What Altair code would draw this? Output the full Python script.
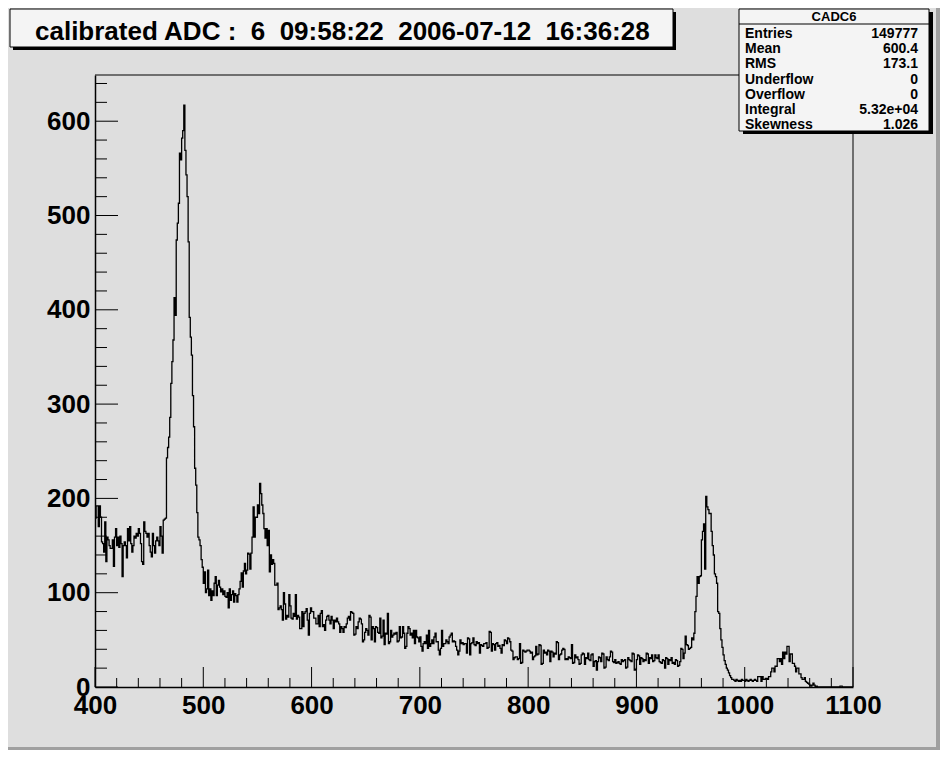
import altair as alt
import pandas as pd

# ---------------- data (counts per 1-unit bin) ----------------
c400 = [179,192,192,170,192,180,154,152,143,175,
        133,159,156,150,147,147,156,128,159,168,
        150,159,148,160,152,117,150,154,150,137,
        168,155,170,152,143,150,160,158,163,160,
        168,163,152,133,130,175,165,163,159,163,
        150,143,138,163,150,142,155,159,155,150,
        170,160,142,177,178,179,243,254,265,286,
        322,345,368,413,394,474,492,513,566,559,
        582,590,617,569,543,520,472,392,371,352,
        309,276,232,214,185,159,156,150,135,127]
c500 = [110,122,100,104,124,97,104,92,102,97,
        110,117,97,108,113,106,101,104,98,102,
        96,95,100,84,104,92,98,102,90,99,
        97,90,98,104,112,121,106,123,131,120,
        124,142,141,125,142,159,191,159,180,180,
        193,184,216,205,193,184,168,158,168,150,
        166,122,140,130,135,131,108,108,110,82,
        84,86,82,71,100,88,72,76,74,98,
        86,73,72,78,75,98,72,76,74,62,
        62,80,64,78,80,83,71,55,78,84]
c600 = [80,80,73,73,67,67,76,64,78,81,
        64,66,60,71,75,76,71,67,75,71,
        62,71,69,73,69,67,58,64,62,58,
        64,63,67,73,75,71,80,79,78,55,
        56,64,62,69,73,72,67,48,50,58,
        62,60,55,76,74,50,64,62,48,64,
        63,58,57,73,52,54,71,45,57,56,
        78,46,48,60,53,55,57,56,58,48,
        49,64,52,53,64,57,41,43,57,64,
        62,55,57,52,60,46,60,53,52,48]
c700 = [53,43,38,46,48,46,55,41,60,43,
        46,50,46,53,57,48,48,39,34,41,
        60,43,46,46,50,48,46,53,55,57,
        48,49,48,43,39,34,38,50,46,47,
        45,46,46,36,52,51,34,46,47,52,
        45,44,48,46,47,36,45,44,43,46,
        46,47,41,42,59,58,38,46,45,39,
        46,47,43,44,41,36,45,44,50,49,
        46,52,51,48,39,38,29,31,32,32,
        29,30,46,25,26,39,38,37,38,39]
c800 = [39,38,36,37,29,32,33,43,34,35,
        45,44,24,25,39,36,37,34,39,38,
        27,38,37,32,36,35,48,47,29,34,
        35,39,41,40,29,30,29,32,31,30,
        45,25,26,34,31,32,29,24,25,34,
        36,35,24,31,30,36,29,28,34,35,
        22,27,28,18,27,32,31,27,36,35,
        20,21,32,29,28,32,38,37,27,26,
        29,25,26,27,25,24,29,27,28,29,
        20,21,31,29,28,27,36,35,18,19]
c900 = [29,34,33,24,31,30,27,29,28,36,
        35,25,31,30,34,27,28,34,31,30,
        34,27,26,25,29,28,20,31,30,24,
        29,28,31,25,26,24,29,28,22,23,
        27,41,40,30,36,54,45,44,40,41,
        42,52,50,57,80,96,117,110,117,118,
        156,165,173,125,202,191,188,184,184,165,
        150,140,120,117,110,80,78,62,50,42,
        34,28,24,20,18,15,12,10,8,8,
        7,6,8,7,6,7,6,8,7,7]
c1000 = [6,8,7,6,7,8,7,6,7,8,
         7,6,11,11,11,6,11,8,8,9,
         9,8,11,11,16,20,20,16,22,22,
         30,30,27,30,24,37,30,37,35,43,
         43,27,35,35,25,25,22,16,20,20,
         14,14,10,8,8,10,6,5,4,3,
         2,1,2,4,2,0,1,0,0,0,
         0,0,0,0,0,0,0,0,0,0,
         0,0,0,0,0,0,0,0,1,1,
         0,0,0,0,0,0,0,0,0,0]

x_major = [400, 500, 600, 700, 800, 900, 1000, 1100]
y_major = [0, 100, 200, 300, 400, 500, 600]
x_minor = [v for v in range(400, 1101, 20) if v % 100]
y_minor = [v for v in range(0, 649, 20) if v % 100]

title_text = "calibrated ADC :\u00a0 6\u00a0 09:58:22\u00a0 2006-07-12\u00a0 16:36:28"
stats_name = "CADC6"
stats_labels = ["Entries", "Mean", "RMS", "Underflow", "Overflow", "Integral", "Skewness"]
stats_values = ["149777", "600.4", "173.1", "0", "0", "5.32e+04", "1.026"]

# ---------------- build ----------------
counts = c400 + c500 + c600 + c700 + c800 + c900 + c1000
edges = list(range(400, 1100))
hist = pd.DataFrame({"x": edges + [1100], "n": counts + [counts[-1]]})

W, H = 758, 612
FONT = "Liberation Sans"
xs = alt.Scale(domain=[400, 1100], nice=False, zero=False)
ys = alt.Scale(domain=[0, 649], nice=False)

common_axis = dict(title=None, labelFont=FONT, labelFontSize=26, labelFontWeight="bold",
                   labelColor="black", ticks=False, tickSize=0, grid=False,
                   domainColor="black", domainWidth=1.5, labelFlush=False,
                   labelOverlap=False, format="d")
xaxis = alt.Axis(values=x_major, labelPadding=5, **common_axis)
yaxis = alt.Axis(values=y_major, labelPadding=5, **common_axis)

layers = []

line = alt.Chart(hist).mark_line(interpolate="step-after", color="black",
                                 strokeWidth=1.3, clip=True).encode(
    x=alt.X("x:Q", scale=xs, axis=xaxis),
    y=alt.Y("n:Q", scale=ys, axis=yaxis),
)
layers.append(line)

def one():
    return pd.DataFrame({"a": [0]})

# ticks (inside the frame, like ROOT)
layers.append(alt.Chart(pd.DataFrame({"v": x_major})).mark_rule(color="black").encode(
    x=alt.X("v:Q", scale=xs, axis=xaxis), y=alt.value(H), y2=alt.value(H - 20)))
layers.append(alt.Chart(pd.DataFrame({"v": x_minor})).mark_rule(color="black").encode(
    x=alt.X("v:Q", scale=xs, axis=xaxis), y=alt.value(H), y2=alt.value(H - 9)))
layers.append(alt.Chart(pd.DataFrame({"v": y_major})).mark_rule(color="black").encode(
    y=alt.Y("v:Q", scale=ys, axis=yaxis), x=alt.value(0), x2=alt.value(23)))
layers.append(alt.Chart(pd.DataFrame({"v": y_minor})).mark_rule(color="black").encode(
    y=alt.Y("v:Q", scale=ys, axis=yaxis), x=alt.value(0), x2=alt.value(12)))

# frame top and right
layers.append(alt.Chart(one()).mark_rule(color="black").encode(
    x=alt.value(0), x2=alt.value(W), y=alt.value(0)))
layers.append(alt.Chart(one()).mark_rule(color="black").encode(
    x=alt.value(W), y=alt.value(0), y2=alt.value(H)))

def rect(x1, x2, y1, y2, fill, stroke=None):
    kw = dict(fill=fill)
    if stroke:
        kw.update(stroke=stroke, strokeWidth=1)
    return alt.Chart(one()).mark_rect(**kw).encode(
        x=alt.value(x1), x2=alt.value(x2), y=alt.value(y1), y2=alt.value(y2))

def text(t, x, y, size, align="left", baseline="alphabetic", font=FONT):
    return alt.Chart(pd.DataFrame({"t": [t]})).mark_text(
        font=font, fontSize=size, fontWeight="bold", align=align, baseline=baseline,
        color="black").encode(text="t:N", x=alt.value(x), y=alt.value(y))

# canvas bevel (right / bottom)
layers.append(rect(841, 845, -67, 675, "#a0a0a0"))
layers.append(rect(-87, 845, 672, 675, "#a0a0a0"))

# title box
layers.append(rect(-82, 581, -63, -25, "black"))
layers.append(rect(-85, 578, -66, -28, "#f4f4f4", "black"))
layers.append(text(title_text, -60, -35, 26))

# stats box
layers.append(rect(648, 838, -63, 59, "black"))
layers.append(rect(644, 834, -66, 56, "#f4f4f4", "black"))
layers.append(alt.Chart(one()).mark_rule(color="black").encode(
    x=alt.value(644), x2=alt.value(834), y=alt.value(-51)))
layers.append(text(stats_name, 739, -58, 13, align="center", baseline="middle"))
for i, (lab, val) in enumerate(zip(stats_labels, stats_values)):
    yy = -41 + i * 15.17
    layers.append(text(lab, 650, yy, 14, baseline="middle"))
    layers.append(text(val, 823, yy, 14, align="right", baseline="middle"))

chart = alt.layer(*layers).properties(
    width=W, height=H,
    padding={"left": 87, "top": 67, "right": 87, "bottom": 63},
    autosize="none",
).configure(background="#dedede").configure_view(strokeWidth=0)

chart.save("out.html", embed_options={"renderer": "svg", "actions": False})
